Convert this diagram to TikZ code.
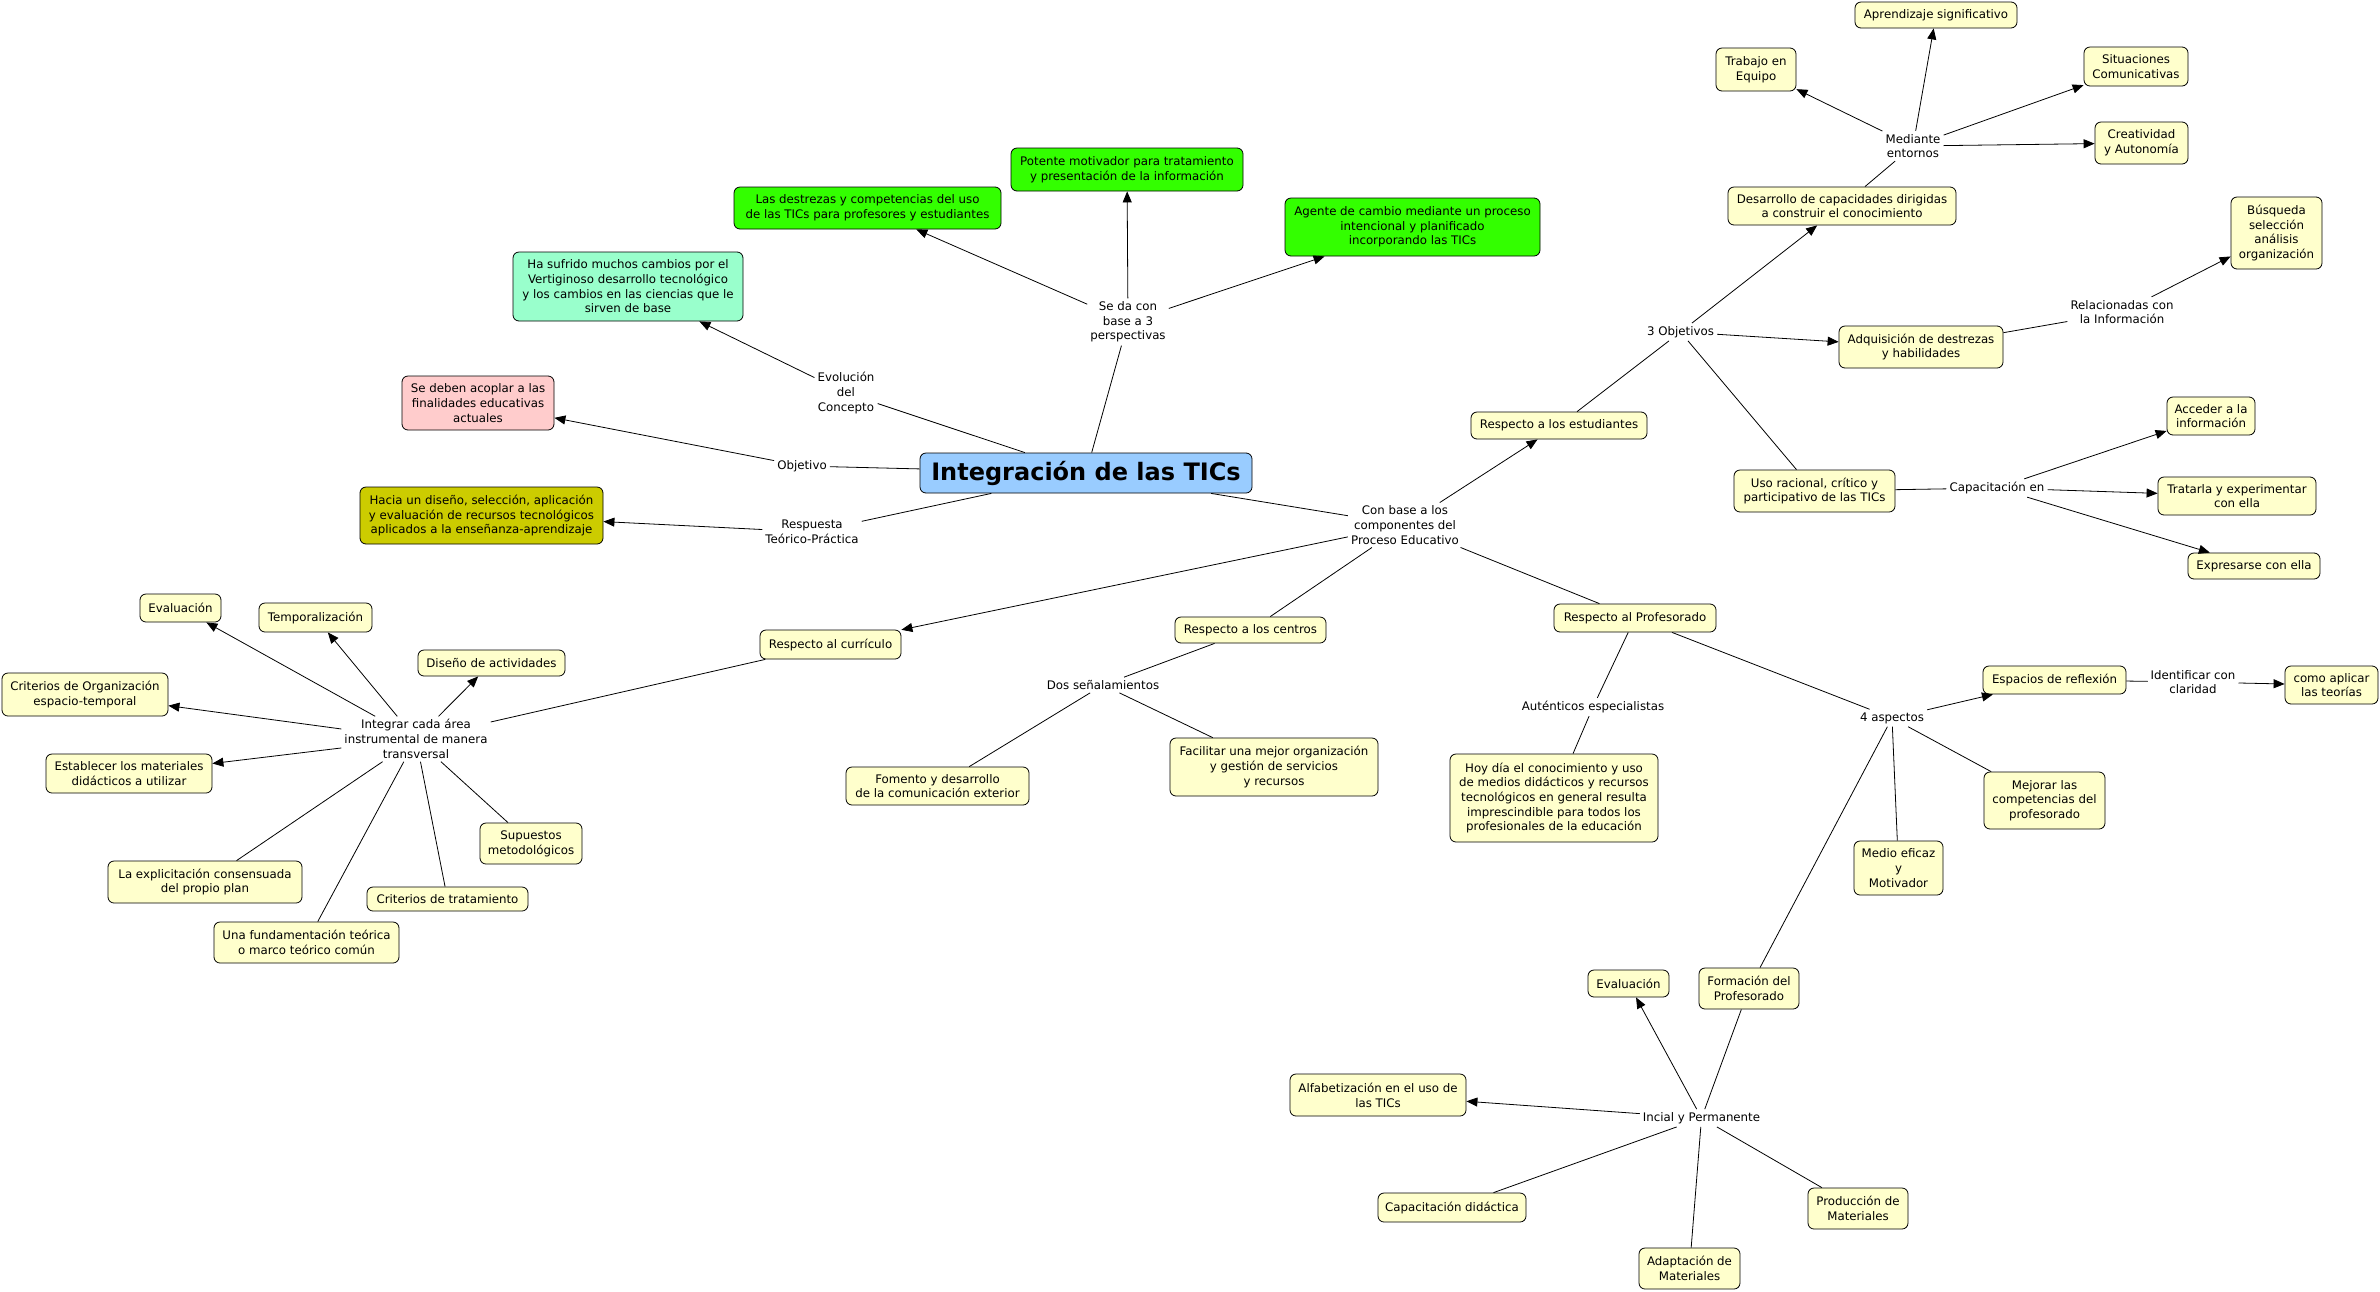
\documentclass[tikz,border=0pt]{standalone}
\usepackage{fontspec}
\setmainfont{DejaVu Sans}
\usetikzlibrary{arrows.meta}
\definecolor{cyel}{HTML}{FFFFCC}
\definecolor{cblue}{HTML}{99CCFF}
\definecolor{cmint}{HTML}{99FFCC}
\definecolor{cpink}{HTML}{FFCCCC}
\definecolor{cgreen}{HTML}{33FF00}
\definecolor{colive}{HTML}{CCCC00}
\begin{document}
\begin{tikzpicture}[x=1pt,y=-1pt,
  every node/.style={font=\fontsize{11.8}{14.7}\selectfont, text=black},
  cbox/.style={draw=black, line width=0.8pt, rounded corners=6pt, fill=cyel, align=center, inner xsep=3pt, inner ysep=2pt},
  sz/.style 2 args={minimum width=#1pt, minimum height=#2pt},
  lnk/.style={align=center, inner sep=3pt},
  con/.style={draw=black, line width=0.8pt},
  arr/.style={con, -{Triangle[length=11pt,width=9pt]}}]
\useasboundingbox (0,0) rectangle (2380,1291);
\fill[white] (0,0) rectangle (2380,1291);

% ---- concepts ----
\node[cbox, fill=cblue, sz={332}{40}, font=\fontsize{24}{28}\selectfont\bfseries] (title) at (1086,473) {Integración de las TICs};
\node[cbox, fill=cmint, sz={230}{69}] (sufrido) at (628,286.5) {Ha sufrido muchos cambios por el\\Vertiginoso desarrollo tecnológico\\y los cambios en las ciencias que le\\sirven de base};
\node[cbox, fill=cpink, sz={152}{54}] (pink) at (478,403) {Se deben acoplar a las\\finalidades educativas\\actuales};
\node[cbox, fill=cgreen, sz={267}{42}] (destrezas) at (867.5,208) {Las destrezas y competencias del uso\\de las TICs para profesores y estudiantes};
\node[cbox, fill=cgreen, sz={232}{43}] (potente) at (1127,169.5) {Potente motivador para tratamiento\\y presentación de la información};
\node[cbox, fill=cgreen, sz={255}{58}] (agente) at (1412.5,227) {Agente de cambio mediante un proceso\\intencional y planificado\\incorporando las TICs};
\node[cbox, fill=colive, sz={243}{57}] (hacia) at (481.5,515.5) {Hacia un diseño, selección, aplicación\\y evaluación de recursos tecnológicos\\aplicados a la enseñanza-aprendizaje};

\node[cbox, sz={80}{43}] (trabajo) at (1756,69.5) {Trabajo en\\Equipo};
\node[cbox, sz={162}{26}] (aprend) at (1936,15) {Aprendizaje significativo};
\node[cbox, sz={104}{39}] (situac) at (2136,66.5) {Situaciones\\Comunicativas};
\node[cbox, sz={93}{42}] (creat) at (2141.5,143) {Creatividad\\y Autonomía};
\node[cbox, sz={228}{38}] (desarr) at (1842,206) {Desarrollo de capacidades dirigidas\\a construir el conocimiento};
\node[cbox, sz={91}{72}] (busq) at (2276.5,233) {Búsqueda\\selección\\análisis\\organización};
\node[cbox, sz={164}{42}] (adquis) at (1921,347) {Adquisición de destrezas\\y habilidades};
\node[cbox, sz={176}{27}] (estud) at (1559,425.5) {Respecto a los estudiantes};
\node[cbox, sz={161}{42}] (usorac) at (1814.5,491) {Uso racional, crítico y\\participativo de las TICs};
\node[cbox, sz={88}{38}] (acceder) at (2211,416) {Acceder a la\\información};
\node[cbox, sz={158}{38}] (tratarla) at (2237,496) {Tratarla y experimentar\\con ella};
\node[cbox, sz={132}{26}] (expres) at (2254,566) {Expresarse con ella};

\node[cbox, sz={141}{29}] (curric) at (830.5,644.5) {Respecto al currículo};
\node[cbox, sz={151}{26}] (centros) at (1250.5,630) {Respecto a los centros};
\node[cbox, sz={183}{38}] (fomento) at (937.5,786) {Fomento y desarrollo\\de la comunicación exterior};
\node[cbox, sz={208}{58}] (facilit) at (1274,767) {Facilitar una mejor organización\\y gestión de servicios\\y recursos};
\node[cbox, sz={162}{28}] (profes) at (1635,618) {Respecto al Profesorado};
\node[cbox, sz={208}{88}] (hoydia) at (1554,798) {Hoy día el conocimiento y uso\\de medios didácticos y recursos\\tecnológicos en general resulta\\imprescindible para todos los\\profesionales de la educación};
\node[cbox, sz={143}{28}] (espacios) at (2054.5,680) {Espacios de reflexión};
\node[cbox, sz={93}{38}] (comoapl) at (2331.5,685) {como aplicar\\las teorías};
\node[cbox, sz={121}{57}] (mejorar) at (2044.5,800.5) {Mejorar las\\competencias del\\profesorado};
\node[cbox, sz={89}{54}] (medio) at (1898.5,868) {Medio eficaz\\y\\Motivador};
\node[cbox, sz={100}{41}] (formac) at (1749,988.5) {Formación del\\Profesorado};
\node[cbox, sz={81}{27}] (evalr) at (1628.5,983.5) {Evaluación};
\node[cbox, sz={176}{42}] (alfab) at (1378,1095) {Alfabetización en el uso de\\las TICs};
\node[cbox, sz={148}{29}] (capdid) at (1452,1207.5) {Capacitación didáctica};
\node[cbox, sz={101}{41}] (adapt) at (1689.5,1268.5) {Adaptación de\\Materiales};
\node[cbox, sz={100}{41}] (produc) at (1858,1208.5) {Producción de\\Materiales};

\node[cbox, sz={81}{28}] (evall) at (180.5,608) {Evaluación};
\node[cbox, sz={113}{29}] (tempo) at (315.5,617.5) {Temporalización};
\node[cbox, sz={147}{26}] (diseno) at (491.5,663) {Diseño de actividades};
\node[cbox, sz={166}{43}] (critorg) at (85,694.5) {Criterios de Organización\\espacio-temporal};
\node[cbox, sz={166}{39}] (establ) at (129,773.5) {Establecer los materiales\\didácticos a utilizar};
\node[cbox, sz={102}{41}] (supuest) at (531,843.5) {Supuestos\\metodológicos};
\node[cbox, sz={194}{42}] (explic) at (205,882) {La explicitación consensuada\\del propio plan};
\node[cbox, sz={185}{41}] (fundam) at (306.5,942.5) {Una fundamentación teórica\\o marco teórico común};
\node[cbox, sz={161}{24}] (crittrat) at (447.5,899) {Criterios de tratamiento};

% ---- linking phrases ----
\node[lnk] (sedacon) at (1128,322) {Se da con\\base a 3\\perspectivas};
\node[lnk] (evol) at (846,393) {Evolución\\del\\Concepto};
\node[lnk] (objetivo) at (802,466) {Objetivo};
\node[lnk] (respuesta) at (812,532) {Respuesta\\Teórico-Práctica};
\node[lnk] (conbase) at (1405,525) {Con base a los\\componentes del\\Proceso Educativo};
\node[lnk] (tresobj) at (1680.5,332) {3 Objetivos};
\node[lnk] (mediante) at (1913,146) {Mediante\\entornos};
\node[lnk] (relac) at (2122,312) {Relacionadas con\\la Información};
\node[lnk] (capacen) at (1997,488) {Capacitación en};
\node[lnk] (dossen) at (1103,685) {Dos señalamientos};
\node[lnk] (autent) at (1593,707) {Auténticos especialistas};
\node[lnk] (cuatro) at (1892,718) {4 aspectos};
\node[lnk] (identif) at (2193,682) {Identificar con\\claridad};
\node[lnk] (incial) at (1701.5,1118) {Incial y Permanente};
\node[lnk] (integrar) at (416,739) {Integrar cada área\\instrumental de manera\\transversal};

% ---- connectors ----
\draw[con] (title) -- (evol);
\draw[arr] (evol) -- (sufrido);
\draw[con] (title) -- (sedacon);
\draw[arr] (sedacon) -- (destrezas);
\draw[arr] (sedacon) -- (potente);
\draw[arr] (sedacon) -- (agente);
\draw[con] (title) -- (objetivo);
\draw[arr] (objetivo) -- (pink);
\draw[con] (title) -- (respuesta);
\draw[arr] (respuesta) -- (hacia);
\draw[con] (title) -- (conbase);
\draw[arr] (conbase) -- (estud);
\draw[arr] (conbase) -- (curric);
\draw[con] (conbase) -- (centros);
\draw[con] (conbase) -- (profes);

\draw[con] (estud) -- (tresobj);
\draw[arr] (tresobj) -- (desarr);
\draw[arr] (tresobj) -- (adquis);
\draw[con] (tresobj) -- (usorac);
\draw[con] (desarr) -- (mediante);
\draw[arr] (mediante) -- (trabajo);
\draw[arr] (mediante) -- (aprend);
\draw[arr] (mediante) -- (situac);
\draw[arr] (mediante) -- (creat);
\draw[con] (adquis) -- (relac);
\draw[arr] (relac) -- (busq);
\draw[con] (usorac) -- (capacen);
\draw[arr] (capacen) -- (acceder);
\draw[arr] (capacen) -- (tratarla);
\draw[arr] (capacen) -- (expres);

\draw[con] (curric) -- (integrar);
\draw[arr] (integrar) -- (evall);
\draw[arr] (integrar) -- (tempo);
\draw[arr] (integrar) -- (diseno);
\draw[arr] (integrar) -- (critorg);
\draw[arr] (integrar) -- (establ);
\draw[con] (integrar) -- (explic);
\draw[con] (integrar) -- (fundam);
\draw[con] (integrar) -- (crittrat);
\draw[con] (integrar) -- (supuest);

\draw[con] (centros) -- (dossen);
\draw[con] (dossen) -- (fomento);
\draw[con] (dossen) -- (facilit);

\draw[con] (profes) -- (autent);
\draw[con] (autent) -- (hoydia);
\draw[con] (profes) -- (cuatro);
\draw[arr] (cuatro) -- (espacios);
\draw[con] (cuatro) -- (mejorar);
\draw[con] (cuatro) -- (medio);
\draw[con] (cuatro) -- (formac);
\draw[con] (espacios) -- (identif);
\draw[arr] (identif) -- (comoapl);

\draw[con] (formac) -- (incial);
\draw[arr] (incial) -- (evalr);
\draw[arr] (incial) -- (alfab);
\draw[con] (incial) -- (capdid);
\draw[con] (incial) -- (adapt);
\draw[con] (incial) -- (produc);
\end{tikzpicture}
\end{document}
